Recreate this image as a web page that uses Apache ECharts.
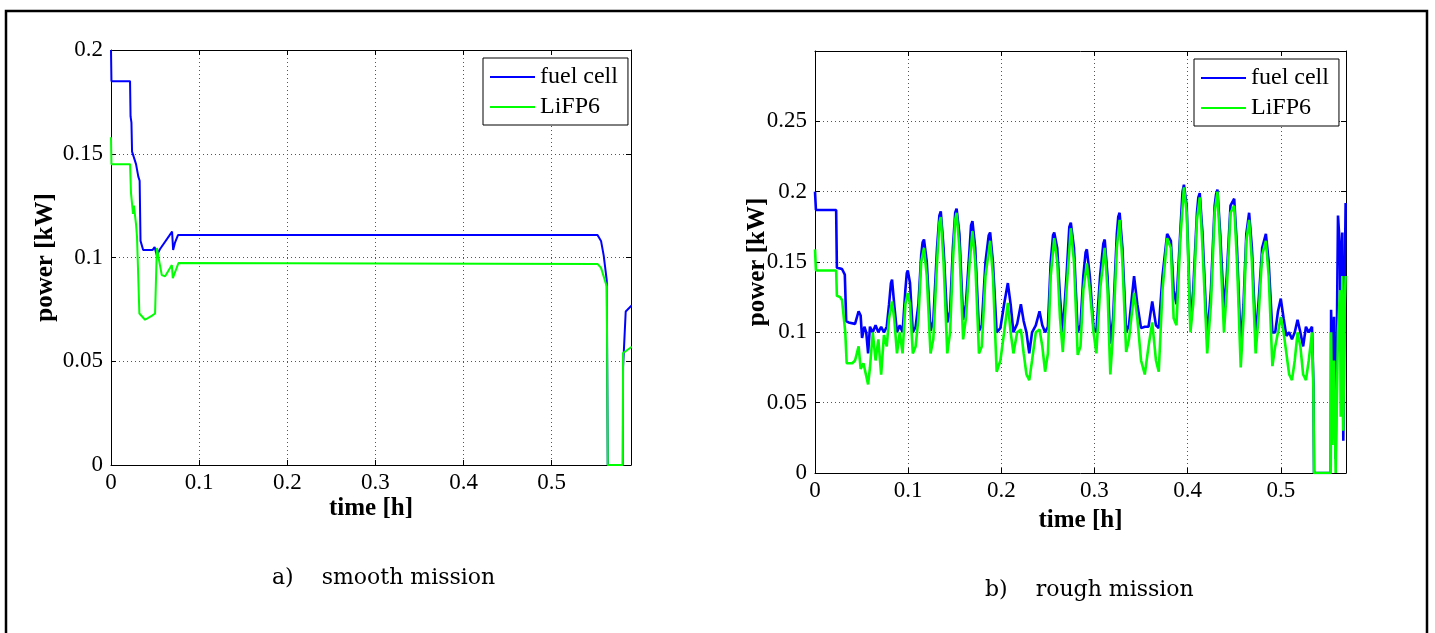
<!DOCTYPE html>
<html><head><meta charset="utf-8">
<script src="https://cdn.jsdelivr.net/npm/echarts@6/dist/echarts.min.js"></script>
<style>html,body{margin:0;padding:0;background:#fff}#chart{width:1435px;height:633px}</style>
</head><body><div id="chart"></div>
<script>
// ---------- DATA ----------
const seriesNames = ['fuel cell', 'LiFP6'];
const xTickLabels = ['0', '0.1', '0.2', '0.3', '0.4', '0.5'];
const yTickLabelsSmooth = ['0', '0.05', '0.1', '0.15', '0.2'];
const yTickLabelsRough = ['0', '0.05', '0.1', '0.15', '0.2', '0.25'];
const captions = ['a)    smooth mission', 'b)    rough mission'];

// smooth mission: [time h, power kW]
const smoothFuelCell = [
  [0, 0.2], [0.0005, 0.185], [0.0216, 0.185], [0.0222, 0.168], [0.0232, 0.165], [0.0239, 0.151],
  [0.0284, 0.145], [0.031, 0.139], [0.0325, 0.137], [0.0335, 0.108], [0.0365, 0.1036], [0.047, 0.1036],
  [0.0495, 0.105], [0.052, 0.101], [0.0555, 0.104], [0.0693, 0.1125], [0.0705, 0.1036], [0.0725, 0.107],
  [0.076, 0.1108], [0.552, 0.1108], [0.556, 0.108], [0.559, 0.101], [0.5625, 0.089], [0.5636, 0],
  [0.5807, 0], [0.581, 0.047], [0.584, 0.074], [0.591, 0.077]
];
const smoothLiFP6 = [
  [0, 0.158], [0.0005, 0.145], [0.0216, 0.145], [0.0227, 0.131], [0.025, 0.121], [0.026, 0.125],
  [0.0284, 0.116], [0.0295, 0.11], [0.0322, 0.073], [0.0386, 0.07], [0.0466, 0.072], [0.05, 0.073],
  [0.052, 0.1046], [0.0576, 0.0915], [0.0614, 0.091], [0.069, 0.0964], [0.0701, 0.09], [0.0765, 0.0973],
  [0.552, 0.0969], [0.556, 0.095], [0.5625, 0.086], [0.5636, 0], [0.5807, 0], [0.581, 0.054], [0.591, 0.057]
];

// rough mission: [time h, power kW]
const roughFuelCell = [
  [0, 0.2], [0.001, 0.187], [0.0227, 0.187], [0.0235, 0.146], [0.029, 0.145], [0.032, 0.141], [0.0335, 0.108],
  [0.036, 0.107], [0.043, 0.106], [0.0468, 0.115], [0.049, 0.112], [0.0505, 0.096], [0.053, 0.104], [0.055, 0.1],
  [0.057, 0.085], [0.059, 0.104], [0.062, 0.1], [0.065, 0.105], [0.068, 0.1], [0.071, 0.104], [0.074, 0.1],
  [0.077, 0.104], [0.0795, 0.12], [0.0815, 0.135], [0.0827, 0.1375], [0.085, 0.12], [0.088, 0.1], [0.091, 0.105], [0.094, 0.1],
  [0.097, 0.13], [0.0985, 0.142], [0.0996, 0.144], [0.102, 0.135], [0.105, 0.1], [0.108, 0.104], [0.111, 0.12], [0.114, 0.155],
  [0.1155, 0.164], [0.117, 0.166], [0.12, 0.15], [0.124, 0.101], [0.127, 0.108], [0.131, 0.16], [0.1335, 0.183], [0.135, 0.186], [0.138, 0.16],
  [0.142, 0.107], [0.145, 0.115], [0.148, 0.16], [0.1505, 0.185], [0.152, 0.188], [0.155, 0.17], [0.159, 0.109], [0.162, 0.12],
  [0.166, 0.16], [0.1675, 0.176], [0.169, 0.179], [0.172, 0.16], [0.176, 0.101], [0.179, 0.105], [0.183, 0.15], [0.1865, 0.169], [0.188, 0.171],
  [0.191, 0.15], [0.195, 0.1], [0.199, 0.103], [0.203, 0.12], [0.207, 0.135], [0.21, 0.12], [0.213, 0.1],
  [0.217, 0.106], [0.221, 0.12], [0.224, 0.108], [0.227, 0.1], [0.23, 0.085], [0.233, 0.1], [0.237, 0.105],
  [0.241, 0.115], [0.244, 0.105], [0.247, 0.1], [0.25, 0.104], [0.253, 0.15], [0.2555, 0.169], [0.2568, 0.171], [0.26, 0.16],
  [0.263, 0.125], [0.266, 0.1], [0.27, 0.14], [0.273, 0.175], [0.2746, 0.178], [0.278, 0.16], [0.282, 0.1], [0.285, 0.105],
  [0.288, 0.14], [0.2905, 0.157], [0.2918, 0.159], [0.295, 0.14], [0.299, 0.103], [0.302, 0.1], [0.306, 0.14], [0.3095, 0.163], [0.311, 0.166],
  [0.314, 0.14], [0.317, 0.092], [0.32, 0.11], [0.324, 0.17], [0.3255, 0.182], [0.327, 0.185], [0.33, 0.16], [0.334, 0.1],
  [0.337, 0.105], [0.3425, 0.14], [0.346, 0.12], [0.35, 0.103], [0.354, 0.104], [0.358, 0.104], [0.362, 0.122],
  [0.366, 0.105], [0.369, 0.103], [0.373, 0.14], [0.378, 0.17], [0.382, 0.165], [0.385, 0.13], [0.388, 0.12],
  [0.392, 0.17], [0.3945, 0.2], [0.396, 0.205], [0.399, 0.19], [0.403, 0.106], [0.406, 0.13], [0.41, 0.185], [0.4115, 0.196], [0.413, 0.199],
  [0.416, 0.17], [0.421, 0.095], [0.425, 0.13], [0.429, 0.19], [0.4305, 0.198], [0.432, 0.2015], [0.435, 0.17], [0.439, 0.116],
  [0.442, 0.14], [0.446, 0.19], [0.45, 0.195], [0.453, 0.16], [0.457, 0.09], [0.46, 0.12], [0.463, 0.17],
  [0.466, 0.185], [0.469, 0.16], [0.473, 0.097], [0.476, 0.12], [0.48, 0.16], [0.484, 0.17], [0.487, 0.15],
  [0.491, 0.1], [0.494, 0.1], [0.497, 0.115], [0.5, 0.124], [0.503, 0.11], [0.506, 0.0975], [0.509, 0.1],
  [0.512, 0.095], [0.515, 0.1], [0.518, 0.109], [0.521, 0.1], [0.524, 0.09], [0.527, 0.104], [0.53, 0.1],
  [0.5335, 0.104], [0.535, 0.064], [0.5357, 0], [0.5536, 0], [0.554, 0.116], [0.5554, 0.064], [0.5571, 0.111],
  [0.5589, 0.01], [0.5614, 0.183], [0.5636, 0.159], [0.5643, 0.088], [0.566, 0.171], [0.5671, 0.023],
  [0.5686, 0.135], [0.5696, 0.192]
];
const roughLiFP6 = [
  [0, 0.159], [0.001, 0.144], [0.0227, 0.144], [0.0235, 0.126], [0.027, 0.125], [0.029, 0.123], [0.031, 0.122],
  [0.0325, 0.1], [0.034, 0.078], [0.04, 0.078], [0.043, 0.08], [0.0468, 0.09], [0.049, 0.074], [0.052, 0.078],
  [0.055, 0.069], [0.057, 0.063], [0.059, 0.075], [0.062, 0.1], [0.065, 0.08], [0.068, 0.095], [0.071, 0.07],
  [0.074, 0.098], [0.077, 0.09], [0.0795, 0.11], [0.0827, 0.122], [0.085, 0.11], [0.088, 0.085], [0.091, 0.1],
  [0.094, 0.085], [0.097, 0.12], [0.0996, 0.128], [0.102, 0.12], [0.105, 0.085], [0.108, 0.09], [0.111, 0.11],
  [0.114, 0.15], [0.117, 0.16], [0.12, 0.14], [0.124, 0.085], [0.127, 0.095], [0.131, 0.15], [0.1335, 0.178], [0.135, 0.182],
  [0.138, 0.15], [0.142, 0.085], [0.145, 0.1], [0.148, 0.15], [0.1505, 0.18], [0.152, 0.185], [0.155, 0.16], [0.159, 0.095],
  [0.162, 0.11], [0.166, 0.15], [0.169, 0.172], [0.172, 0.15], [0.176, 0.085], [0.179, 0.09], [0.183, 0.14],
  [0.188, 0.165], [0.191, 0.14], [0.195, 0.072], [0.199, 0.08], [0.203, 0.1], [0.207, 0.121], [0.21, 0.1],
  [0.213, 0.085], [0.217, 0.1], [0.221, 0.102], [0.224, 0.085], [0.227, 0.07], [0.23, 0.066], [0.233, 0.08],
  [0.237, 0.1], [0.241, 0.102], [0.244, 0.09], [0.247, 0.072], [0.25, 0.085], [0.253, 0.14], [0.2568, 0.167],
  [0.26, 0.15], [0.263, 0.11], [0.266, 0.086], [0.27, 0.13], [0.2746, 0.174], [0.278, 0.15], [0.282, 0.084],
  [0.285, 0.09], [0.288, 0.13], [0.2918, 0.149], [0.295, 0.13], [0.299, 0.1], [0.302, 0.085], [0.306, 0.13],
  [0.311, 0.16], [0.314, 0.13], [0.317, 0.07], [0.32, 0.1], [0.324, 0.16], [0.327, 0.18], [0.33, 0.15],
  [0.334, 0.086], [0.337, 0.095], [0.3425, 0.128], [0.346, 0.11], [0.35, 0.08], [0.354, 0.07], [0.358, 0.09],
  [0.362, 0.107], [0.366, 0.08], [0.369, 0.072], [0.373, 0.13], [0.378, 0.167], [0.382, 0.16], [0.385, 0.11],
  [0.388, 0.105], [0.392, 0.165], [0.396, 0.203], [0.399, 0.185], [0.403, 0.1], [0.406, 0.12], [0.41, 0.18],
  [0.413, 0.196], [0.416, 0.16], [0.421, 0.085], [0.425, 0.12], [0.429, 0.185], [0.432, 0.2], [0.435, 0.16],
  [0.439, 0.1], [0.442, 0.13], [0.446, 0.185], [0.45, 0.19], [0.453, 0.15], [0.457, 0.075], [0.46, 0.11],
  [0.463, 0.165], [0.466, 0.18], [0.469, 0.15], [0.473, 0.085], [0.476, 0.11], [0.48, 0.155], [0.484, 0.165],
  [0.487, 0.14], [0.491, 0.076], [0.494, 0.09], [0.497, 0.1], [0.5, 0.111], [0.503, 0.1], [0.506, 0.085],
  [0.509, 0.07], [0.512, 0.066], [0.515, 0.08], [0.518, 0.1], [0.521, 0.09], [0.524, 0.07], [0.527, 0.066],
  [0.53, 0.08], [0.5335, 0.1], [0.535, 0.06], [0.5357, 0], [0.5536, 0], [0.554, 0.1], [0.5554, 0.02],
  [0.5571, 0.08], [0.5589, 0], [0.5614, 0.1], [0.5636, 0.13], [0.5643, 0.04], [0.566, 0.14], [0.5671, 0.03],
  [0.5686, 0.12], [0.5696, 0.14]
];

// ---------- CHART ----------
const FONT = '"Liberation Serif", "Times New Roman", serif';
const CAPTION_FONT = '"DejaVu Serif", serif';
const BLUE = '#0000ff', GREEN = '#00ff00';

function fmt(labels) {
  return function (v) {
    const s = String(+v.toFixed(2));
    return labels.indexOf(s) >= 0 ? s : '';
  };
}

function axesFor(gridIndex, xMax, yMax, yLabels, xNameGap, yNameGap) {
  const tick = { show: true, inside: true, length: 5, lineStyle: { color: '#000', width: 1 } };
  const line = { show: true, onZero: false, lineStyle: { color: '#000', width: 1 } };
  const split = { show: true, lineStyle: { color: '#555', width: 1, type: [1, 3] } };
  const labelStyle = { color: '#000', fontFamily: FONT, fontSize: 23 };
  const nameStyle = { color: '#000', fontFamily: FONT, fontSize: 25, fontWeight: 'bold' };
  return {
    x: [
      { gridIndex, type: 'value', min: 0, max: xMax, interval: 0.1, position: 'bottom',
        axisLine: line, axisTick: tick, splitLine: split,
        axisLabel: Object.assign({ margin: 6, showMaxLabel: false, formatter: fmt(xTickLabels) }, labelStyle),
        name: 'time [h]', nameLocation: 'middle', nameGap: xNameGap, nameMoveOverlap: false, nameTextStyle: nameStyle },
      { gridIndex, type: 'value', min: 0, max: xMax, interval: 0.1, position: 'top',
        axisLine: line, axisTick: tick, splitLine: { show: false }, axisLabel: { show: false } }
    ],
    y: [
      { gridIndex, type: 'value', min: 0, max: yMax, interval: 0.05, position: 'left',
        axisLine: line, axisTick: tick, splitLine: split,
        axisLabel: Object.assign({ margin: 8, formatter: fmt(yLabels) }, labelStyle),
        name: 'power [kW]', nameLocation: 'middle', nameGap: yNameGap, nameMoveOverlap: false, nameTextStyle: nameStyle },
      { gridIndex, type: 'value', min: 0, max: yMax, interval: 0.05, position: 'right',
        axisLine: line, axisTick: tick, splitLine: { show: false }, axisLabel: { show: false } }
    ]
  };
}

const A = axesFor(0, 0.59, 0.2, yTickLabelsSmooth, 31, 53);
const B = axesFor(1, 0.57, 0.3, yTickLabelsRough, 35, 45);

function lineSeries(name, data, color, xi, yi, w) {
  return { name, type: 'line', data, xAxisIndex: xi, yAxisIndex: yi, showSymbol: false, symbol: 'none',
    lineStyle: { color, width: w }, itemStyle: { color }, animation: false, clip: true };
}

function legendAt(left, top) {
  return { data: seriesNames, left, top, orient: 'vertical', icon: 'rect', itemWidth: 45, itemHeight: 2,
    itemGap: 4, padding: [6, 10, 5, 7], borderColor: '#000', borderWidth: 1, backgroundColor: '#fff',
    selectedMode: false, textStyle: { fontFamily: FONT, fontSize: 24, color: '#000', lineHeight: 26 } };
}

const chart = echarts.init(document.getElementById('chart'), null, { renderer: 'canvas' });
chart.setOption({
  animation: false,
  backgroundColor: '#fff',
  grid: [
    { left: 111, top: 50, width: 520, height: 415 },
    { left: 815, top: 51, width: 531, height: 422 }
  ],
  xAxis: A.x.concat(B.x),
  yAxis: A.y.concat(B.y),
  legend: [legendAt(483, 58), legendAt(1194, 59)],
  series: [
    lineSeries(seriesNames[0], smoothFuelCell, BLUE, 0, 0, 2),
    lineSeries(seriesNames[1], smoothLiFP6, GREEN, 0, 0, 2),
    lineSeries(seriesNames[0], roughFuelCell, BLUE, 2, 2, 2.6),
    lineSeries(seriesNames[1], roughLiFP6, GREEN, 2, 2, 2.6)
  ],
  graphic: [
    { type: 'polyline', shape: { points: [[6, 640], [6, 11], [1427, 11], [1427, 640]] },
      style: { stroke: '#000', lineWidth: 2.5, fill: null }, silent: true },
    { type: 'text', left: 272, top: 567, style: { text: captions[0], fontFamily: CAPTION_FONT, fontSize: 22, fill: '#000' } },
    { type: 'text', left: 985, top: 579, style: { text: captions[1], fontFamily: CAPTION_FONT, fontSize: 22, fill: '#000' } }
  ]
});
</script>
</body></html>
